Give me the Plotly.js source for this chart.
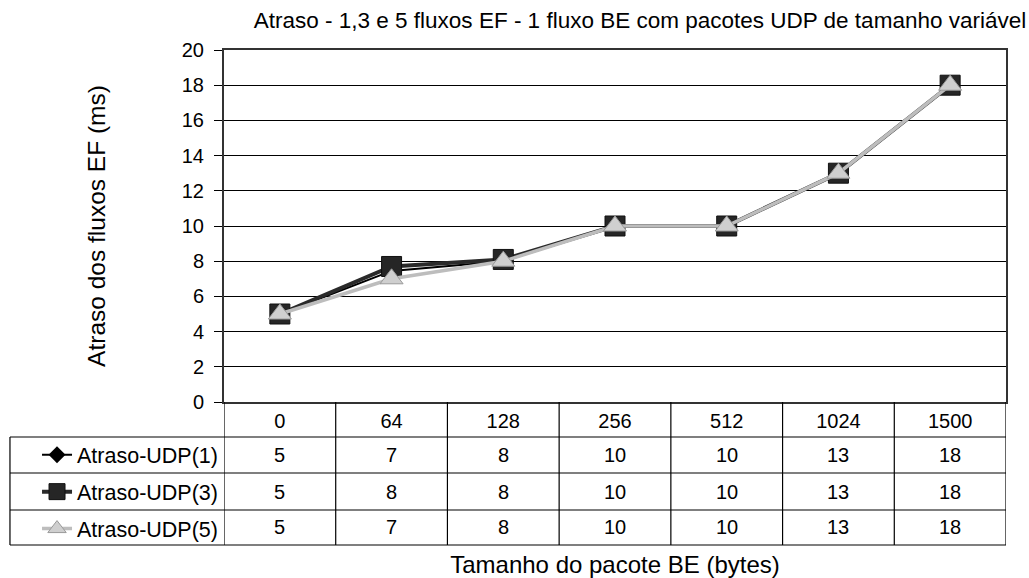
<!DOCTYPE html>
<html>
<head>
<meta charset="utf-8">
<script src="https://cdn.plot.ly/plotly-3.0.1.min.js"></script>
<style>
  html, body { margin: 0; padding: 0; background: #fff; }
  #chart { width: 1029px; height: 578px; }
</style>
</head>
<body>
<div id="chart"></div>
<script>
// Packet sizes of the BE flow (bytes) – category axis and table header
const packetSizes = ['0', '64', '128', '256', '512', '1024', '1500'];

// Delay of the EF flows (ms) for 1, 3 and 5 EF flows
const seriesNames = ['Atraso-UDP(1)', 'Atraso-UDP(3)', 'Atraso-UDP(5)'];
const delayUdp1 = [5, 7.45, 8.0, 10, 10, 13, 18];
const delayUdp3 = [5, 7.7, 8.1, 10, 10, 13, 18];
const delayUdp5 = [5, 7.0, 8.0, 10, 10, 13, 18];

const FONT = 'Liberation Sans, Arial, sans-serif';

const traces = [
  {
    name: seriesNames[0], x: packetSizes, y: delayUdp1, type: 'scatter', mode: 'lines+markers',
    legendgroup: 'g1',
    line: { color: '#000000', width: 2 },
    marker: { symbol: 'diamond', size: 13, color: '#000000' }
  },
  {
    name: seriesNames[1], x: packetSizes, y: delayUdp3, type: 'scatter', mode: 'lines+markers',
    legendgroup: 'g3',
    line: { color: '#2a2a2a', width: 4 },
    marker: { symbol: 'square', size: 20, color: '#262626', line: { color: '#111', width: 1 } }
  },
  {
    name: seriesNames[2], x: packetSizes, y: delayUdp5, type: 'scatter', mode: 'lines+markers',
    legendgroup: 'g5',
    line: { color: '#bdbdbd', width: 3.5 },
    marker: { symbol: 'triangle-up', size: 20, color: '#cfcfcf', line: { color: '#9a9a9a', width: 1 } }
  }
];

// Geometry of the data table below the plot, in paper units
const rowLines = [-0.0994, -0.2017, -0.3068, -0.4063];
const rowCenters = [-0.1506, -0.2543, -0.3565];
const legendLeft = -0.2737;

const shapes = [];
// vertical cell borders, one per category boundary
for (let i = 0; i <= packetSizes.length; i++) {
  shapes.push({
    type: 'line', xref: 'x', yref: 'paper',
    x0: i - 0.5, x1: i - 0.5, y0: 0, y1: rowLines[3],
    line: { color: '#000', width: 1.2 }
  });
}
// horizontal row borders across value columns and series-name column
rowLines.forEach(y => {
  shapes.push({
    type: 'line', xref: 'paper', yref: 'paper',
    x0: legendLeft, x1: 1, y0: y, y1: y,
    line: { color: '#000', width: 1.2 }
  });
});
// left border of the series-name column
shapes.push({
  type: 'line', xref: 'paper', yref: 'paper',
  x0: legendLeft, x1: legendLeft, y0: rowLines[0], y1: rowLines[3],
  line: { color: '#000', width: 1.2 }
});

// values in the data table, taken from the plotted series
const annotations = [];
[delayUdp1, delayUdp3, delayUdp5].forEach((vals, r) => {
  vals.forEach((v, c) => {
    annotations.push({
      xref: 'x', yref: 'paper', x: c, y: rowCenters[r],
      text: String(Math.round(v)), showarrow: false,
      font: { family: FONT, size: 20, color: '#000' },
      xanchor: 'center', yanchor: 'middle'
    });
  });
});

const layout = {
  width: 1029, height: 578,
  paper_bgcolor: '#ffffff', plot_bgcolor: '#ffffff',
  margin: { l: 224, r: 23, t: 50, b: 176 },
  title: {
    text: 'Atraso - 1,3 e 5 fluxos EF - 1 fluxo BE com pacotes UDP de tamanho variável',
    font: { family: FONT, size: 22.5, color: '#000' },
    x: 640 / 1029, xanchor: 'center', xref: 'container',
    y: 1 - 20 / 578, yanchor: 'middle', yref: 'container'
  },
  showlegend: true,
  legend: {
    x: -0.2391, xanchor: 'left',
    y: -0.0915, yanchor: 'top',
    traceorder: 'grouped', tracegroupgap: 6.0,
    font: { family: FONT, size: 21.5, color: '#000' },
    bgcolor: 'rgba(0,0,0,0)', borderwidth: 0
  },
  xaxis: {
    type: 'category',
    categoryorder: 'array', categoryarray: packetSizes,
    range: [-0.5, packetSizes.length - 0.5], autorange: false,
    showgrid: false, zeroline: false,
    showline: true, linecolor: '#333', linewidth: 2, mirror: true,
    ticks: '', showticklabels: true,
    tickfont: { family: FONT, size: 20, color: '#000' },
    ticklabelstandoff: 0,
    title: {
      text: 'Tamanho do pacote BE (bytes)',
      font: { family: FONT, size: 24, color: '#000' },
      standoff: 127
    },
    automargin: false, fixedrange: true
  },
  yaxis: {
    range: [0, 20], dtick: 2, tick0: 0, autorange: false,
    showgrid: true, gridcolor: '#000', gridwidth: 1,
    zeroline: false,
    showline: true, linecolor: '#333', linewidth: 2, mirror: true,
    ticks: 'outside', ticklen: 8, tickcolor: '#000', tickwidth: 1,
    ticklabelstandoff: 6,
    tickfont: { family: FONT, size: 20, color: '#000' },
    title: {
      text: 'Atraso dos fluxos EF (ms)',
      font: { family: FONT, size: 24.5, color: '#000' },
      standoff: 69
    },
    automargin: false, fixedrange: true
  },
  shapes: shapes,
  annotations: annotations
};

Plotly.newPlot('chart', traces, layout, { displayModeBar: false, staticPlot: true });
</script>
</body>
</html>
